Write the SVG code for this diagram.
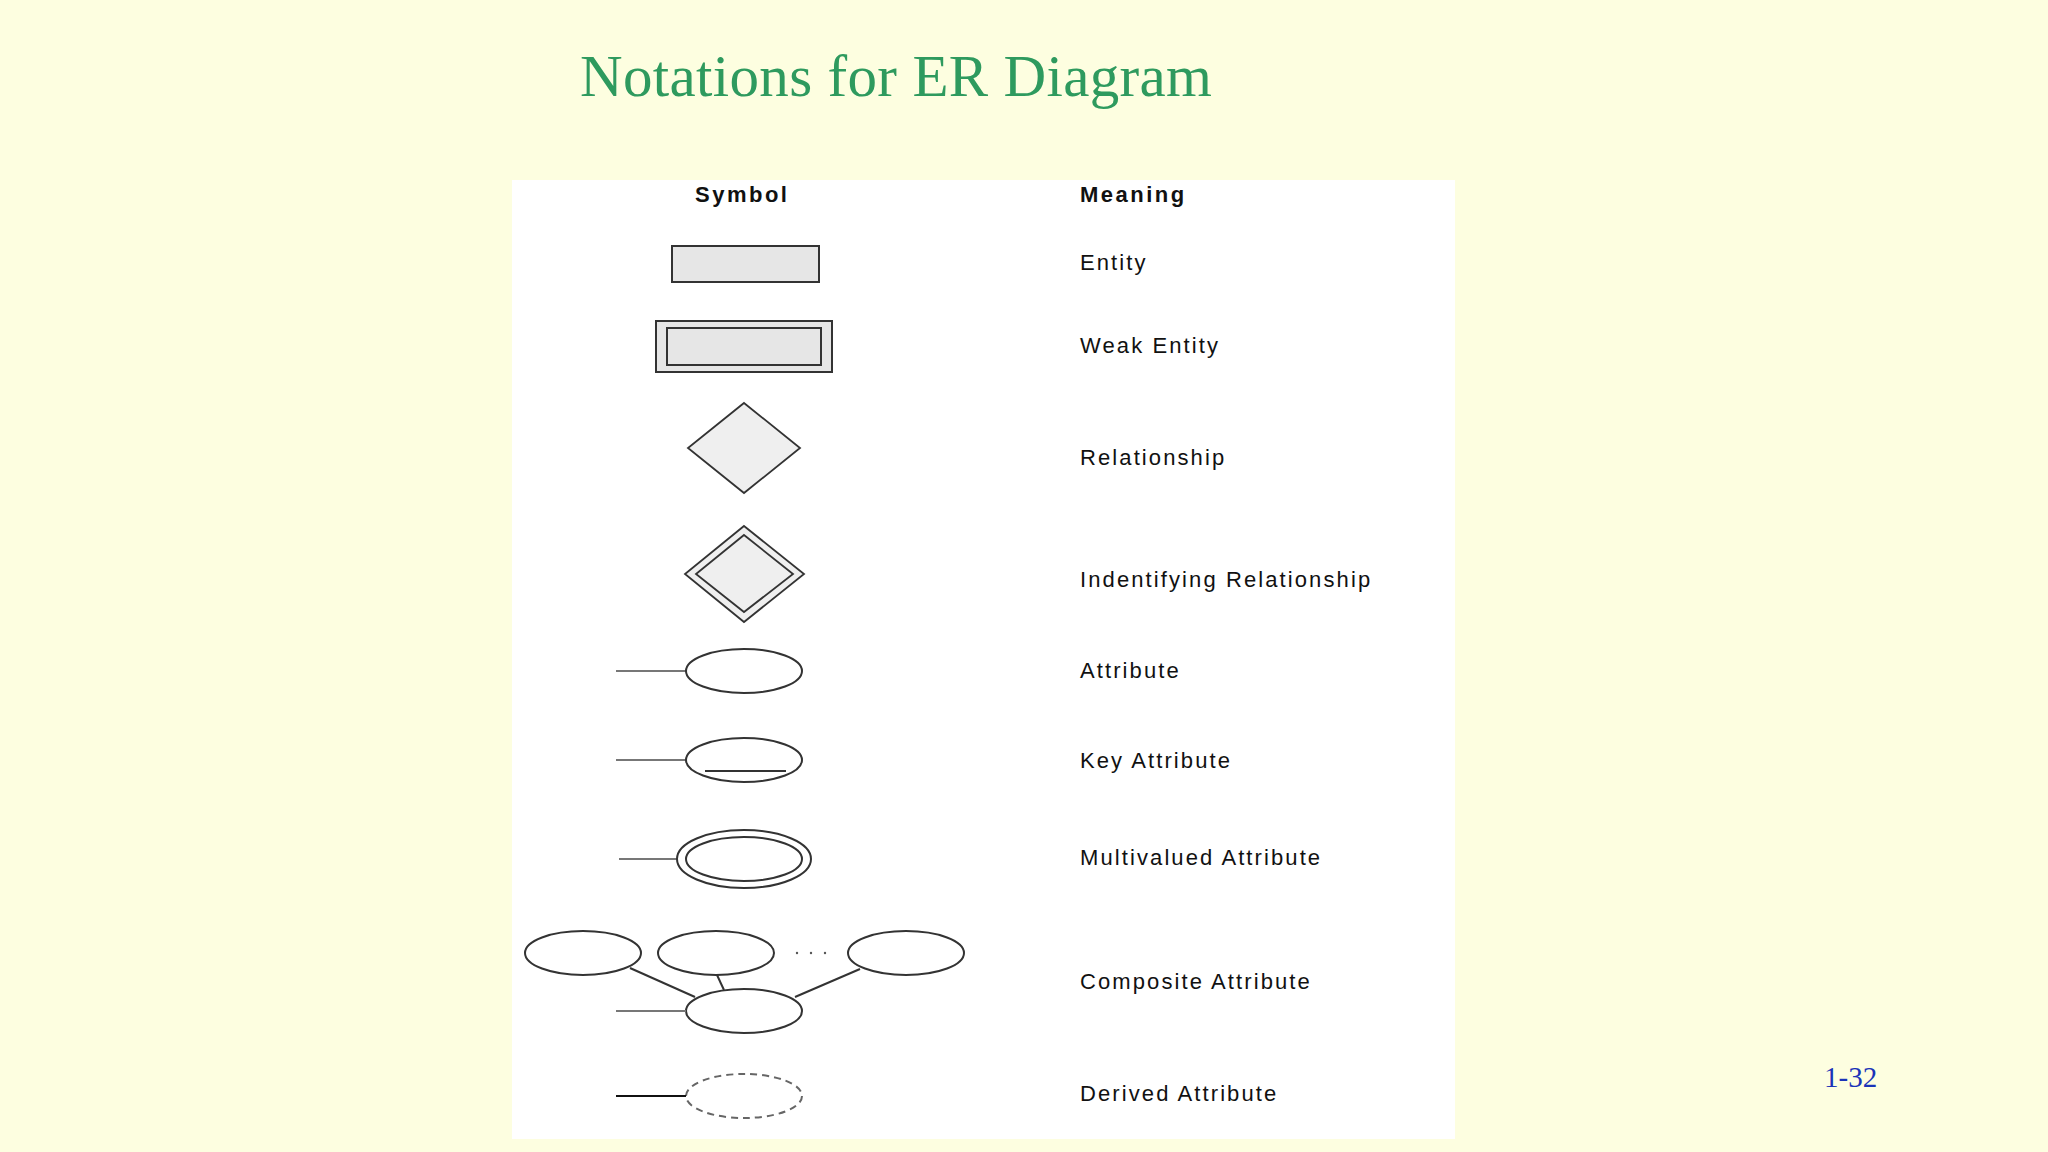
<svg xmlns="http://www.w3.org/2000/svg" width="2048" height="1152" viewBox="0 0 2048 1152">
<style>
.s{fill:#e6e6e6;stroke:#333;stroke-width:2}
.e{fill:#fff;stroke:#333;stroke-width:2}
.l{stroke:#777;stroke-width:2;fill:none}
.t{font-family:"Liberation Sans",Arial,sans-serif;font-size:22px;fill:#111;letter-spacing:2.1px}
.h{font-family:"Liberation Sans",Arial,sans-serif;font-size:22px;font-weight:bold;fill:#111;letter-spacing:2.5px}
</style>
<rect width="2048" height="1152" fill="#fdfee0"/>
<text x="580" y="96" font-family="'Liberation Serif',serif" font-size="59" fill="#2e9a5e" textLength="632">Notations for ER Diagram</text>
<text x="1824" y="1087" font-family="'Liberation Serif',serif" font-size="29" fill="#1a33b8">1-32</text>
<rect x="512" y="180" width="943" height="959" fill="#fff"/>
<text class="h" x="695" y="202">Symbol</text>
<text class="h" x="1080" y="202">Meaning</text>
<g id="entity"><rect class="s" x="672" y="246" width="147" height="36"/><text class="t" x="1080" y="270">Entity</text></g>
<g id="weak"><rect class="s" x="656" y="321" width="176" height="51"/><rect class="s" x="667" y="328" width="154" height="37"/><text class="t" x="1080" y="353">Weak Entity</text></g>
<g id="rel"><polygon class="s" points="744,403 800,448 744,493 688,448" style="fill:#efefef;stroke-width:1.8"/><text class="t" x="1080" y="465">Relationship</text></g>
<g id="irel"><polygon class="s" points="744,526 804,574 744,622 685,574" style="fill:#efefef;stroke-width:1.8"/><polygon class="s" points="744,535 793,574 744,612 696,574" style="fill:#efefef;stroke-width:1.8"/><text class="t" x="1080" y="587">Indentifying Relationship</text></g>
<g id="attr"><line class="l" x1="616" y1="671" x2="686" y2="671"/><ellipse class="e" cx="744" cy="671" rx="58" ry="22"/><text class="t" x="1080" y="678">Attribute</text></g>
<g id="key"><line class="l" x1="616" y1="760" x2="686" y2="760"/><ellipse class="e" cx="744" cy="760" rx="58" ry="22"/><line x1="705" y1="771" x2="786" y2="771" stroke="#333" stroke-width="2"/><text class="t" x="1080" y="768">Key Attribute</text></g>
<g id="multi"><line class="l" x1="619" y1="859" x2="677" y2="859"/><ellipse class="e" cx="744" cy="859" rx="67" ry="29"/><ellipse class="e" cx="744" cy="859" rx="58" ry="22"/><text class="t" x="1080" y="865">Multivalued Attribute</text></g>
<g id="composite"><ellipse class="e" cx="583" cy="953" rx="58" ry="22"/><ellipse class="e" cx="716" cy="953" rx="58" ry="22"/><ellipse class="e" cx="906" cy="953" rx="58" ry="22"/><ellipse class="e" cx="744" cy="1011" rx="58" ry="22"/><g fill="#555"><circle cx="797" cy="953" r="1.2"/><circle cx="811" cy="953" r="1.2"/><circle cx="825" cy="953" r="1.2"/></g><text class="t" x="1080" y="989">Composite Attribute</text></g>
<g id="derived"><ellipse class="e" cx="744" cy="1096" rx="58" ry="22" style="stroke:#666;stroke-dasharray:7,5"/><text class="t" x="1080" y="1101">Derived Attribute</text></g>
<g id="connectors"><line class="l" x1="630" y1="968" x2="695" y2="997" style="stroke:#333"/><line class="l" x1="717" y1="975" x2="724" y2="990" style="stroke:#333"/><line class="l" x1="860" y1="969" x2="795" y2="997" style="stroke:#333"/><line class="l" x1="616" y1="1011" x2="686" y2="1011"/><line x1="616" y1="1096" x2="686" y2="1096" stroke="#111" stroke-width="2"/></g>
</svg>
